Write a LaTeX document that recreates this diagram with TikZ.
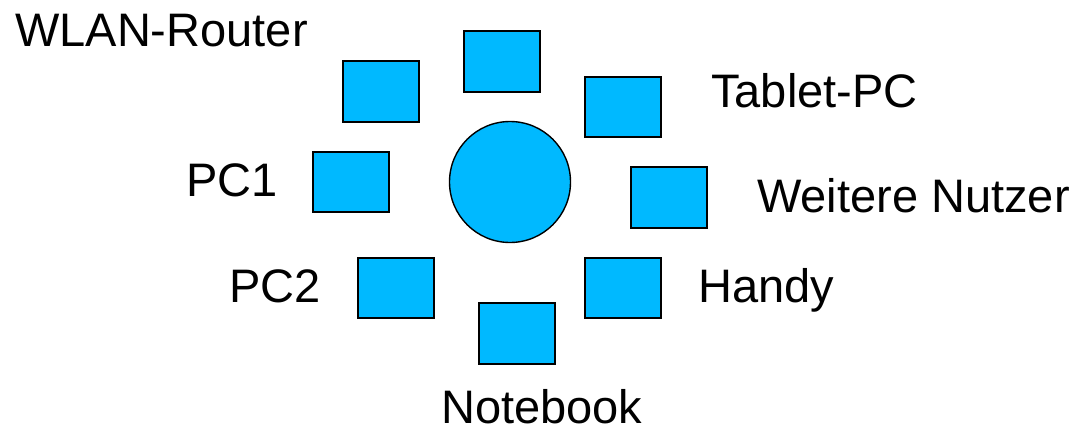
\documentclass[tikz,border=0pt]{standalone}
\usepackage{fontspec}
\setmainfont{Liberation Sans}
\definecolor{dev}{RGB}{0,185,255}
\begin{document}
\begin{tikzpicture}[x=1pt,y=-1pt,
  devbox/.style={draw=black,line width=1.4pt,fill=dev},
  lbl/.style={anchor=base west,inner sep=0pt,text depth=0pt,font=\fontsize{47}{50}\selectfont}]
\useasboundingbox (0,0) rectangle (1080,428);
% devices
\draw[devbox] (464,31) rectangle (540,92);
\draw[devbox] (343,61) rectangle (419,122);
\draw[devbox] (585,77) rectangle (661,137);
\draw[devbox] (313,152) rectangle (389,212);
\draw[devbox] (631,167) rectangle (707,228);
\draw[devbox] (358,258) rectangle (434,318);
\draw[devbox] (585,258) rectangle (661,318);
\draw[devbox] (479,303) rectangle (555,364);
% hub
\draw[devbox] (510,182) circle (60.5);
% labels
\node[lbl] (wlan) at (15,47) {WLAN-Router};
\node[lbl] (tablet) at (711,107) {Tablet-PC};
\node[lbl] (pc1) at (186,196) {PC1};
\node[lbl] (weitere) at (757,212) {Weitere Nutzer};
\node[lbl] (pc2) at (229,302) {PC2};
\node[lbl] (handy) at (698,302) {Handy};
\node[lbl] (notebook) at (441,423) {Notebook};
\end{tikzpicture}
\end{document}
